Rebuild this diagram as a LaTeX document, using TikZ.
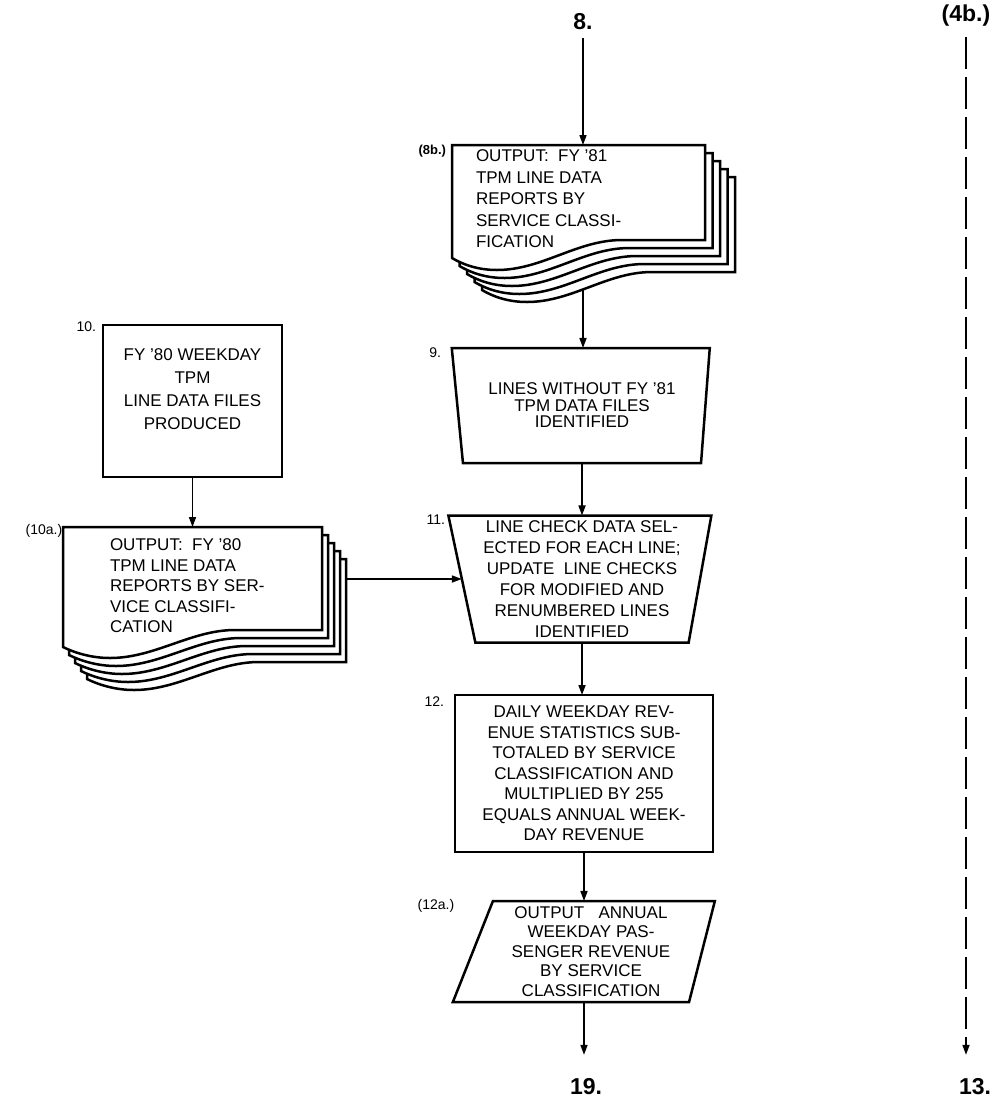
\documentclass[tikz,border=0pt]{standalone}
\usepackage{fontspec}
\setmainfont{Liberation Sans}
\usetikzlibrary{shapes.geometric,arrows.meta}
\begin{document}
\begin{tikzpicture}[x=1pt,y=-1pt,
  every node/.style={inner sep=0pt, outer sep=0pt},
  boxline/.style={line width=2.5pt},
  txt/.style={font=\fontsize{17}{20.5}\selectfont},
  proc/.style={boxline, draw, rectangle, align=center, txt},
  manop/.style={boxline, draw, trapezium, shape border rotate=180, trapezium stretches body, align=center, txt},
  io/.style={boxline, draw, trapezium, trapezium stretches body, align=center, font=\fontsize{17}{19.5}\selectfont},
  sheet/.style={boxline, draw, fill=white},
  doctext/.style={align=left, anchor=north west},
  steplabel/.style={font=\fontsize{14}{14}\selectfont},
  bignum/.style={font=\bfseries\fontsize{23}{23}\selectfont},
  arr/.style={line width=1.6pt, -{Triangle[length=10pt,width=7pt]}},
  dashline/.style={arr, dash pattern=on 32pt off 8pt},
]
\useasboundingbox (0,0) rectangle (1001,1104);

% terminal labels
\node[bignum] (n8) at (583,22) {8.};
\node[bignum] (n4b) at (966,16) {(4b.)};
\node[bignum] (n19) at (586,1087) {19.};
\node[bignum] (n13) at (975,1087) {13.};

% ---------- 8b document stack ----------
\foreach \k in {4,3,2,1,0}{
  \begin{scope}[shift={({452+7.5*\k},{145+8*\k})}]
    \draw[sheet] (0,0) -- (253,0) -- (253,95) -- (170,95)
      .. controls (125,95) and (90,125) .. (45,125)
      .. controls (25,125) and (10,119) .. (0,113) -- cycle;
  \end{scope}
}
\node[minimum width=253, minimum height=95, anchor=north west] (n8b) at (452,145) {};
\node[doctext, font=\fontsize{17}{21.5}\selectfont] (n8bt) at (476,150)
  {OUTPUT:\ \ FY '81\\TPM LINE DATA\\REPORTS BY\\SERVICE CLASSI-\\FICATION};
\coordinate (n8bout) at (583,289);
\node[steplabel, font=\bfseries\fontsize{13}{13}\selectfont, anchor=east] (l8b) at (446,151) {(8b.)};

% ---------- box 9 ----------
\node[manop, font=\fontsize{17}{16.5}\selectfont, minimum width=258, minimum height=115,
  trapezium left angle=79, trapezium right angle=76] (n9) at (582,405.5)
  {LINES WITHOUT FY '81\\TPM DATA FILES\\IDENTIFIED};
\node[steplabel, anchor=east] (l9) at (441,353) {9.};

% ---------- box 11 ----------
\node[manop, font=\fontsize{17}{21}\selectfont, minimum width=263, minimum height=127,
  trapezium left angle=79, trapezium right angle=77] (n11) at (582,579)
  {LINE CHECK DATA SEL-\\ECTED FOR EACH LINE;\\UPDATE\ \ LINE CHECKS\\FOR MODIFIED AND\\RENUMBERED LINES\\IDENTIFIED};
\node[steplabel, anchor=east] (l11) at (445,520) {11.};

% ---------- box 12 ----------
\node[proc, minimum width=258, minimum height=157] (n12) at (584,773.5)
  {DAILY WEEKDAY REV-\\ENUE STATISTICS SUB-\\TOTALED BY SERVICE\\CLASSIFICATION AND\\MULTIPLIED BY 255\\EQUALS ANNUAL WEEK-\\DAY REVENUE};
\node[steplabel, anchor=east] (l12) at (444,702) {12.};

% ---------- box 12a ----------
\node[io, minimum width=262, minimum height=101,
  trapezium left angle=66, trapezium right angle=106] (n12a) at (591,951.5)
  {OUTPUT\ \ \ ANNUAL\\WEEKDAY PAS-\\SENGER REVENUE\\BY SERVICE\\CLASSIFICATION};
\node[steplabel] (l12a) at (436,906) {(12a.)};

% ---------- box 10 ----------
\node[proc, font=\fontsize{17}{23}\selectfont, minimum width=179, minimum height=152] (n10) at (192.5,401)
  {FY '80 WEEKDAY\\TPM\\LINE DATA FILES\\PRODUCED\\ \mbox{}};
\node[steplabel, anchor=east] (l10) at (96,327) {10.};

% ---------- 10a document stack ----------
\foreach \k in {4,3,2,1,0}{
  \begin{scope}[shift={({63+6*\k},{527+8*\k})}]
    \draw[sheet] (0,0) -- (259,0) -- (259,103) -- (172,103)
      .. controls (128,103) and (92,131) .. (47,131)
      .. controls (27,131) and (10,125) .. (0,120) -- cycle;
  \end{scope}
}
\node[minimum width=259, minimum height=103, anchor=north west] (n10a) at (63,527) {};
\node[doctext, font=\fontsize{17}{20.5}\selectfont] (n10at) at (110,539)
  {OUTPUT:\ \ FY '80\\TPM LINE DATA\\REPORTS BY SER-\\VICE CLASSIFI-\\CATION};
\coordinate (n10aout) at (346,579);
\node[steplabel] (l10a) at (44,531) {(10a.)};

% ---------- connectors ----------
\draw[arr, shorten <=8pt] (n8.south) -- (n8.south |- n8b.north);
\draw[arr] (n8bout) -- (n8bout |- n9.north);
\draw[arr] (n9.south) -- (n9.south |- n11.north);
\draw[arr] (n11.south) -- (n11.south |- n12.north);
\draw[arr] (n12.south) -- (n12.south |- n12a.north);
\draw[arr, shorten >=24pt] (n12a.south -| n12.south) -- (n12.south |- n19.north);
\draw[arr] (n10.south) -- (n10.south |- n10a.north);
\draw[arr] (n10aout) -- (n11);
\draw[dashline, shorten <=10pt, shorten >=24pt] (n4b.south) -- (n4b.south |- n13.north);
\end{tikzpicture}
\end{document}
